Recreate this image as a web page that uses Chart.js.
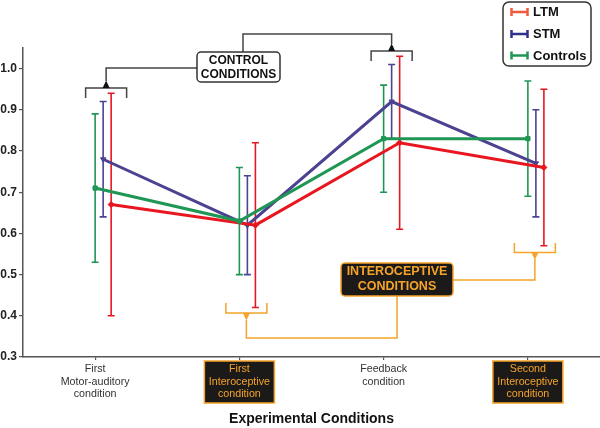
<!DOCTYPE html>
<html>
<head>
<meta charset="utf-8">
<script src="https://cdn.jsdelivr.net/npm/chart.js@4/dist/chart.umd.min.js"></script>
<style>
  body { margin: 0; background: #fff; }
  #wrap { width: 600px; height: 428px; }
</style>
</head>
<body>
<div id="wrap"><canvas id="chart" width="600" height="428"></canvas></div>
<script>
// categories (x axis) and tick values (y axis)
var categories = [["First", "Motor-auditory", "condition"], ["First", "Interoceptive", "condition"], ["Feedback", "condition"], ["Second", "Interoceptive", "condition"]];
var interoceptive = [false, true, false, true];
var yTicks = [0.3, 0.4, 0.5, 0.6, 0.7, 0.8, 0.9, 1.0];

// series: means and error bar limits
var ltmMean = [0.67, 0.62, 0.82, 0.76];
var ltmLow = [0.40, 0.42, 0.61, 0.57];
var ltmHigh = [0.94, 0.82, 1.03, 0.95];

var stmMean = [0.78, 0.62, 0.92, 0.77];
var stmLow = [0.64, 0.50, 0.83, 0.64];
var stmHigh = [0.92, 0.74, 1.01, 0.90];

var ctlMean = [0.71, 0.63, 0.83, 0.83];
var ctlLow = [0.53, 0.50, 0.70, 0.69];
var ctlHigh = [0.89, 0.76, 0.96, 0.97];

var FONT = '"Liberation Sans", Arial, sans-serif';

function serie(label, mean, low, high, color, legendColor, shift, style, rot, order) {
  return {
    label: label,
    data: mean.map(function (v, i) { return { x: i + shift, y: v }; }),
    errLow: low, errHigh: high, legendColor: legendColor,
    borderColor: color, backgroundColor: color,
    borderWidth: 3, tension: 0,
    pointStyle: style, pointRotation: rot, pointRadius: 3, pointBorderWidth: 1,
    order: order
  };
}

// draws the vertical error bars under the lines
var errorBars = {
  id: 'errorBars',
  beforeDatasetsDraw: function (chart) {
    var ctx = chart.ctx, y = chart.scales.y;
    chart.data.datasets.forEach(function (ds, i) {
      var meta = chart.getDatasetMeta(i);
      ctx.save();
      ctx.strokeStyle = ds.borderColor;
      ctx.lineWidth = 1.6;
      meta.data.forEach(function (pt, j) {
        var t = y.getPixelForValue(ds.errHigh[j]), b = y.getPixelForValue(ds.errLow[j]);
        ctx.beginPath();
        ctx.moveTo(pt.x, t); ctx.lineTo(pt.x, b);
        ctx.moveTo(pt.x - 3.5, t); ctx.lineTo(pt.x + 3.5, t);
        ctx.moveTo(pt.x - 3.5, b); ctx.lineTo(pt.x + 3.5, b);
        ctx.stroke();
      });
      ctx.restore();
    });
  }
};

function rbox(ctx, x, y, w, h, r, fill, stroke) {
  ctx.beginPath();
  ctx.roundRect(x, y, w, h, r);
  ctx.fillStyle = fill; ctx.fill();
  ctx.lineWidth = 1.5; ctx.strokeStyle = stroke; ctx.stroke();
}

function poly(ctx, pts, color) {
  ctx.beginPath();
  ctx.moveTo(pts[0][0], pts[0][1]);
  for (var i = 1; i < pts.length; i++) ctx.lineTo(pts[i][0], pts[i][1]);
  ctx.strokeStyle = color; ctx.lineWidth = 1.5; ctx.stroke();
}

function tri(ctx, x, y, dir, color) {
  ctx.beginPath();
  ctx.moveTo(x - 3.5, y); ctx.lineTo(x + 3.5, y); ctx.lineTo(x, y + dir * 7.5);
  ctx.closePath(); ctx.fillStyle = color; ctx.fill();
}

var ORANGE = '#f5a32a';

var extras = {
  id: 'extras',
  afterDraw: function (chart) {
    var ctx = chart.ctx, xs = chart.scales.x;
    var cx = categories.map(function (c, i) { return xs.getPixelForValue(i); });
    ctx.save();
    ctx.textAlign = 'center';
    ctx.textBaseline = 'middle';

    // x labels
    categories.forEach(function (lines, i) {
      if (interoceptive[i]) {
        rbox(ctx, cx[i] - 35, 361, 70, 42, 0, '#1c1a18', ORANGE);
        ctx.fillStyle = ORANGE;
      } else {
        ctx.fillStyle = '#333';
      }
      ctx.font = '10.7px ' + FONT;
      lines.forEach(function (s, k) { ctx.fillText(s, cx[i], 369 + k * 12.6); });
    });

    // axis title
    ctx.fillStyle = '#111';
    ctx.font = 'bold 14px ' + FONT;
    ctx.fillText('Experimental Conditions', (chart.chartArea.left + chart.chartArea.right) / 2, 419);

    // control conditions brackets
    var g = '#444';
    var b1 = cx[0] + 11, b3 = cx[2] + 8;
    poly(ctx, [[b1 - 20.5, 98], [b1 - 20.5, 88], [b1 + 20.5, 88], [b1 + 20.5, 98]], g);
    tri(ctx, b1, 88, -1, '#111');
    poly(ctx, [[b1, 81], [b1, 68], [197, 68]], g);
    poly(ctx, [[b3 - 20.5, 61], [b3 - 20.5, 51], [b3 + 20.5, 51], [b3 + 20.5, 61]], g);
    tri(ctx, b3, 51, -1, '#111');
    poly(ctx, [[243, 52], [243, 34], [b3, 34], [b3, 44]], g);
    rbox(ctx, 197, 52, 83, 30, 4, '#fff', '#333');
    ctx.fillStyle = '#111';
    ctx.font = 'bold 12px ' + FONT;
    ctx.fillText('CONTROL', 238.5, 60.5);
    ctx.fillText('CONDITIONS', 238.5, 74.5);

    // interoceptive brackets
    var b2 = cx[1] + 7, b4 = cx[3] + 7;
    poly(ctx, [[b2 - 20.5, 303], [b2 - 20.5, 313], [b2 + 20.5, 313], [b2 + 20.5, 303]], ORANGE);
    tri(ctx, b2, 313, 1, ORANGE);
    poly(ctx, [[b2, 320], [b2, 338], [397, 338], [397, 296]], ORANGE);
    poly(ctx, [[b4 - 20.5, 243], [b4 - 20.5, 252.5], [b4 + 20.5, 252.5], [b4 + 20.5, 243]], ORANGE);
    tri(ctx, b4, 252.5, 1, ORANGE);
    poly(ctx, [[b4, 259], [b4, 280], [453, 280]], ORANGE);
    rbox(ctx, 341, 263, 112, 33, 4, '#1c1a18', ORANGE);
    ctx.fillStyle = ORANGE;
    ctx.font = 'bold 12.5px ' + FONT;
    ctx.fillText('INTEROCEPTIVE', 397, 272);
    ctx.fillText('CONDITIONS', 397, 286.5);

    // legend
    rbox(ctx, 503, 2, 88, 64, 6, '#fff', '#333');
    var ly = [12, 34, 55.5];
    ctx.textAlign = 'left';
    ctx.font = 'bold 13px ' + FONT;
    chart.data.datasets.forEach(function (ds, i) {
      var y = ly[i];
      ctx.beginPath();
      ctx.moveTo(511, y); ctx.lineTo(528, y);
      ctx.moveTo(511.5, y - 4); ctx.lineTo(511.5, y + 4);
      ctx.moveTo(527.5, y - 4); ctx.lineTo(527.5, y + 4);
      ctx.strokeStyle = ds.legendColor; ctx.lineWidth = 2.5; ctx.stroke();
      ctx.fillStyle = '#111';
      ctx.fillText(ds.label, 533, y + 0.5);
    });
    ctx.restore();
  }
};

new Chart(document.getElementById('chart'), {
  type: 'line',
  data: {
    datasets: [
      serie('LTM', ltmMean, ltmLow, ltmHigh, '#e8161f', '#f05a3e', 16 / 144, 'rectRot', 0, 2),
      serie('STM', stmMean, stmLow, stmHigh, '#4b4291', '#2f2f8c', 8 / 144, 'triangle', 180, 3),
      serie('Controls', ctlMean, ctlLow, ctlHigh, '#1f9653', '#1f9653', 0, 'rect', 0, 1)
    ]
  },
  options: {
    responsive: false,
    animation: false,
    layout: { autoPadding: false, padding: { top: 48, right: 0, left: 0, bottom: 0 } },
    plugins: { legend: { display: false }, tooltip: { enabled: false } },
    scales: {
      x: {
        type: 'linear', min: -0.5, max: 3.5,
        afterBuildTicks: function (s) { s.ticks = categories.map(function (c, i) { return { value: i }; }); },
        ticks: { display: false },
        grid: { drawOnChartArea: false, drawTicks: true, tickLength: 3, color: '#555', lineWidth: 1.2 },
        border: { color: '#555', width: 1.5 },
        afterFit: function (s) { s.height = 71; }
      },
      y: {
        min: 0.3, max: 1.05,
        afterBuildTicks: function (s) { s.ticks = yTicks.map(function (v) { return { value: v }; }); },
        ticks: {
          padding: 2, color: '#222',
          font: { family: FONT, size: 12, weight: 'bold' },
          callback: function (v) { return v.toFixed(1); }
        },
        grid: { drawOnChartArea: false, drawTicks: true, tickLength: 4, color: '#555', lineWidth: 1.2 },
        border: { color: '#555', width: 1.5 },
        afterFit: function (s) { s.width = 23; }
      }
    }
  },
  plugins: [errorBars, extras]
});
</script>
</body>
</html>
